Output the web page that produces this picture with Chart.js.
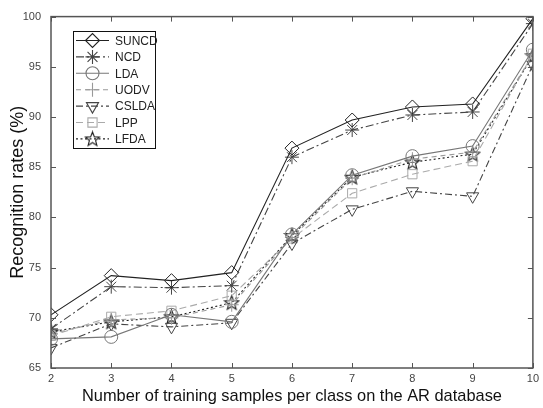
<!DOCTYPE html>
<html>
<head>
<meta charset="utf-8">
<script src="https://cdn.jsdelivr.net/npm/chart.js@4"></script>
<style>
html,body{margin:0;padding:0;background:#fff;}
#wrap{width:543px;height:408px;position:relative;}
</style>
</head>
<body>
<div id="wrap"><canvas id="c" width="543" height="408"></canvas></div>
<script>
const xValues = [2, 3, 4, 5, 6, 7, 8, 9, 10];
const seriesNames = ['SUNCD', 'NCD', 'LDA', 'UODV', 'CSLDA', 'LPP', 'LFDA'];
const suncd = [70.3, 74.2, 73.7, 74.5, 86.9, 89.7, 91.0, 91.3, 99.8];
const ncd   = [68.9, 73.1, 73.0, 73.2, 86.0, 88.7, 90.2, 90.5, 99.3];
const lda   = [67.9, 68.1, 70.3, 69.6, 78.3, 84.2, 86.1, 87.1, 96.7];
const uodv  = [68.4, 69.8, 70.0, 71.3, 78.0, 83.9, 85.8, 86.5, 96.2];
const cslda = [67.0, 69.4, 69.1, 69.5, 77.4, 80.8, 82.6, 82.1, 95.2];
const lpp   = [68.2, 70.1, 70.7, 72.2, 77.9, 82.4, 84.3, 85.6, 96.3];
const lfda  = [68.6, 69.6, 70.1, 71.5, 78.2, 84.0, 85.5, 86.3, 96.1];
const yTicks = [65, 70, 75, 80, 85, 90, 95, 100];

function starImage(color) {
  const s = 17, c = document.createElement('canvas');
  c.width = s; c.height = s;
  const g = c.getContext('2d');
  g.strokeStyle = color; g.lineWidth = 1.1;
  g.beginPath();
  const R = 7.5, r = 3.2, cx = s / 2, cy = s / 2 + 0.5;
  for (let i = 0; i < 10; i++) {
    const a = -Math.PI / 2 + i * Math.PI / 5;
    const rr = i % 2 === 0 ? R : r;
    const px = cx + rr * Math.cos(a), py = cy + rr * Math.sin(a);
    if (i === 0) g.moveTo(px, py); else g.lineTo(px, py);
  }
  g.closePath(); g.stroke();
  return c;
}

const styles = [
  {color: '#222', dash: [], point: 'rectRot', rot: 0, r: 7},
  {color: '#444', dash: [8, 3, 2, 3], point: 'star', rot: 0, r: 7},
  {color: '#777', dash: [], point: 'circle', rot: 0, r: 6.5},
  {color: '#999', dash: [5, 4], point: 'cross', rot: 0, r: 7},
  {color: '#444', dash: [7, 3, 2, 3], point: 'triangle', rot: 180, r: 7},
  {color: '#aaa', dash: [7, 4], point: 'rect', rot: 0, r: 6.5},
  {color: '#222', dash: [2, 2.5], point: starImage('#222'), rot: 0, r: 7}
];
const values = [suncd, ncd, lda, uodv, cslda, lpp, lfda];

const datasets = seriesNames.map((n, i) => ({
  label: n,
  data: xValues.map((x, j) => ({x: x, y: values[i][j]})),
  borderColor: styles[i].color,
  borderWidth: 1.1,
  borderDash: styles[i].dash,
  pointStyle: styles[i].point,
  pointRotation: styles[i].rot,
  pointRadius: styles[i].r,
  pointBorderColor: styles[i].color,
  pointBackgroundColor: 'rgba(0,0,0,0)',
  pointBorderWidth: 1,
  tension: 0,
  fill: false
}));

const frame = {
  id: 'frame',
  afterDraw(chart) {
    const {ctx, chartArea: a, scales} = chart;
    ctx.save();
    ctx.strokeStyle = '#555';
    ctx.lineWidth = 1.5;
    ctx.setLineDash([]);
    ctx.strokeRect(a.left, a.top, a.right - a.left, a.bottom - a.top);
    ctx.lineWidth = 1;
    ctx.beginPath();
    scales.x.ticks.forEach(t => {
      const px = Math.round(scales.x.getPixelForValue(t.value)) + 0.5;
      ctx.moveTo(px, a.bottom); ctx.lineTo(px, a.bottom - 5);
      ctx.moveTo(px, a.top); ctx.lineTo(px, a.top + 5);
    });
    scales.y.ticks.forEach(t => {
      const py = Math.round(scales.y.getPixelForValue(t.value)) + 0.5;
      ctx.moveTo(a.left, py); ctx.lineTo(a.left + 5, py);
      ctx.moveTo(a.right, py); ctx.lineTo(a.right - 5, py);
    });
    ctx.stroke();

    // legend box
    const bx = 73, by = 31, bw = 82, bh = 117;
    ctx.fillStyle = '#fff';
    ctx.fillRect(bx, by, bw, bh);
    ctx.strokeStyle = '#111';
    ctx.lineWidth = 1;
    ctx.strokeRect(bx + 0.5, by + 0.5, bw, bh);
    chart.data.datasets.forEach((ds, i) => {
      const yy = by + 9.5 + i * 16.4;
      ctx.strokeStyle = ds.borderColor;
      ctx.lineWidth = 1.1;
      ctx.setLineDash(ds.borderDash);
      ctx.beginPath();
      ctx.moveTo(bx + 3, yy); ctx.lineTo(bx + 36, yy);
      ctx.stroke();
      ctx.setLineDash([]);
      ctx.fillStyle = 'rgba(0,0,0,0)';
      Chart.helpers.drawPoint(ctx, {
        pointStyle: ds.pointStyle, rotation: ds.pointRotation,
        radius: ds.pointRadius, borderWidth: 1
      }, bx + 19.5, yy);
      ctx.fillStyle = '#222';
      ctx.font = '12px "Liberation Sans", Arial, sans-serif';
      ctx.textBaseline = 'middle';
      ctx.textAlign = 'left';
      ctx.fillText(ds.label, bx + 42, yy + 1);
    });
    ctx.restore();
  }
};

new Chart(document.getElementById('c'), {
  type: 'line',
  data: {datasets: datasets},
  plugins: [frame],
  options: {
    responsive: false,
    animation: false,
    layout: {padding: {top: 12, right: 2, left: 0, bottom: 0}},
    plugins: {legend: {display: false}, tooltip: {enabled: false}},
    scales: {
      x: {
        type: 'linear', min: 2, max: 10,
        afterBuildTicks: s => { s.ticks = xValues.map(v => ({value: v})); },
        afterFit: s => { s.height = 40; },
        grid: {display: false, drawTicks: false},
        border: {display: false},
        ticks: {padding: 4, color: '#444', font: {family: '"Liberation Sans", Arial, sans-serif', size: 11}},
        title: {display: true, text: 'Number of training samples per class on the AR database',
                color: '#111', padding: {top: 0, bottom: 2},
                font: {family: '"Liberation Sans", Arial, sans-serif', size: 16.4}}
      },
      y: {
        min: 65, max: 100,
        afterBuildTicks: s => { s.ticks = yTicks.map(v => ({value: v})); },
        afterFit: s => { s.width = 51; },
        grid: {display: false, drawTicks: false},
        border: {display: false},
        ticks: {padding: 10, color: '#444', font: {family: '"Liberation Sans", Arial, sans-serif', size: 11}},
        title: {display: true, text: 'Recognition rates (%)', color: '#111',
                padding: {top: 7, bottom: 0},
                font: {family: '"Liberation Sans", Arial, sans-serif', size: 18}}
      }
    }
  }
});
</script>
</body>
</html>
